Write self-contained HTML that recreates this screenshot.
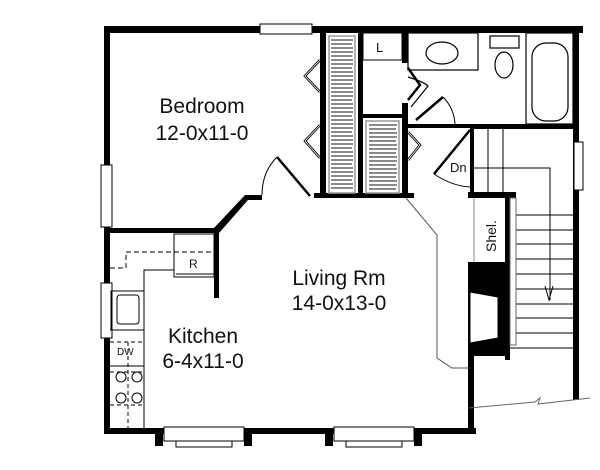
<!DOCTYPE html>
<html><head><style>body{margin:0;background:#fff}svg{display:block}text{font-family:"Liberation Sans",sans-serif;fill:#111}</style></head><body>
<svg width="600" height="470" viewBox="0 0 600 470" xmlns="http://www.w3.org/2000/svg">
<g fill="#000">
<rect x="104" y="26" width="479" height="7"/>
<rect x="104" y="26" width="6" height="408"/>
<rect x="104" y="428" width="372" height="6"/>
<rect x="468" y="262" width="6" height="172"/>
<rect x="573" y="26" width="6" height="374"/>
<rect x="104" y="228" width="114" height="5"/>
<polygon points="214,228 245,195 262,195 262,200 248,200 219,233"/>
<rect x="214" y="228" width="5" height="70"/>
<rect x="320" y="26" width="6" height="172"/>
<rect x="358" y="26" width="5" height="172"/>
<rect x="314" y="193" width="100" height="5"/>
<rect x="402" y="26" width="6" height="37"/>
<rect x="402" y="103" width="6" height="95"/>
<rect x="358" y="114" width="50" height="4"/>
<rect x="405" y="124" width="70" height="4"/>
<rect x="470" y="124" width="107" height="5"/>
<rect x="470" y="124" width="4" height="72"/>
<rect x="468" y="192" width="48" height="6"/>
<rect x="505" y="192" width="5" height="168"/>
<rect x="468" y="262" width="42" height="94"/>
</g>
<polygon points="470,292 498,297 498,338 470,343" fill="#fff" stroke="#000"/>
<g fill="#fff" stroke="#000" stroke-width="1">
<rect x="260" y="24" width="52" height="10"/>
<rect x="101" y="165" width="11" height="62"/>
<rect x="101" y="283" width="11" height="55"/>
<rect x="574" y="142" width="9" height="48"/>
<rect x="164" y="427" width="80" height="14"/><rect x="176" y="441" width="56" height="6"/>
<rect x="334" y="427" width="80" height="14"/><rect x="346" y="441" width="56" height="6"/>
</g>
<rect x="155" y="432" width="8" height="14" fill="#000"/><rect x="244" y="432" width="8" height="14" fill="#000"/>
<rect x="325" y="432" width="8" height="14" fill="#000"/><rect x="414" y="432" width="8" height="14" fill="#000"/>
<g stroke="#555" stroke-width="1.5">
<rect x="329" y="36" width="26" height="157" fill="#fff" stroke="#999"/>
<rect x="366" y="121" width="33" height="72" fill="#fff" stroke="#999"/>
</g>
<g stroke="#444" stroke-width="1.3">
<path d="M331 40h22M331 44h21M331 48h22M331 52h22M331 56h21M331 60h22M331 64h22M331 68h21M331 72h22M331 76h22M331 80h22M331 84h21M331 88h22M331 92h22M331 96h22M331 100h21M331 104h22M331 108h22M331 112h22M331 116h21M331 120h22M331 124h22M331 128h22M331 132h21M331 136h22M331 140h22M331 144h22M331 148h21M331 152h22M331 156h22M331 160h22M331 164h21M331 168h22M331 172h22M331 176h22M331 180h21M331 184h22M331 188h22"/>
<path d="M369 125h28M369 129h27M369 133h28M369 137h28M369 141h27M369 145h28M369 149h28M369 153h27M369 157h28M369 161h28M369 165h27M369 169h28M369 173h28M369 177h27M369 181h28M369 185h28M369 189h27"/>
</g>
<g fill="none" stroke="#000" stroke-width="2.5">
<path d="M320 60 L305 76 L320 92"/><path d="M320 125 L305 141 L320 158"/>
<path d="M408 68 L420 85 L408 100"/>
<path d="M408 132 L420 145 L408 160"/>
</g>
<g fill="none" stroke="#fff" stroke-width="0.8">
<path d="M320 60 L305 76 L320 92"/><path d="M320 125 L305 141 L320 158"/>
<path d="M408 132 L420 145 L408 160"/>
</g>
<g fill="none" stroke="#000">
<path d="M277 157 L310 196" stroke-width="2.5"/>
<path d="M277 157 Q262 172 262 195"/>
<path d="M408 77 Q424 82 428 86 L411 107" stroke-width="1.2"/>
<path d="M416 120 L443 97" stroke-width="2.5"/>
<path d="M443 97 Q454 108 455 124"/>
<path d="M470 130 L434 174" stroke-width="2.5"/>
<path d="M434 174 Q452 186 470 187"/>
</g>
<rect x="363" y="33" width="39" height="27" fill="none" stroke="#000"/>
<text x="376" y="52" font-size="13">L</text>
<g fill="none" stroke="#000" stroke-width="1.2">
<rect x="408" y="33" width="70" height="37"/>
<ellipse cx="442" cy="53" rx="16" ry="11"/>
<rect x="490" y="36" width="29" height="12"/>
<ellipse cx="504" cy="65" rx="9" ry="13"/>
<rect x="526" y="33" width="47" height="91"/>
<rect x="532" y="43" width="36" height="78" rx="14"/>
</g>
<g stroke="#000" stroke-width="1" fill="none">
<path d="M488 129V192M503 129V192M474 168H550V300"/>
<path d="M545 286 L549 300 L553 286"/>
<path d="M516 215H573M516 230H573M516 244H573M516 259H573M516 274H573M516 289H573M516 304H573M516 318H573M516 333H573M510 348H573"/>
<rect x="510" y="198" width="6" height="147" stroke="#666"/>
<path d="M474 198V262" stroke="#888"/>
<path d="M469 408 L535 402 L540 398 L538 404 L590 398" stroke="#666"/>
</g>
<text transform="translate(496,252) rotate(-90)" font-size="14">Shel.</text>
<text x="450" y="172" font-size="13">Dn</text>
<path d="M406 198 L437 235 V358 L452 368 H468" fill="none" stroke="#555" stroke-width="1"/>
<g fill="none" stroke="#000" stroke-width="1">
<rect x="174" y="234" width="40" height="43"/>
<path d="M176 274h38"/>
<path d="M110 268H126V252H214" stroke-dasharray="5,3"/>
<path d="M144 428V270H174" />
<rect x="111" y="291" width="33" height="39"/>
<rect x="117" y="295" width="22" height="29" rx="3"/>
<path d="M110 330H144M110 342H144M110 372H144M128 342V428M110 405H144" stroke-dasharray="4,3"/>
<path d="M110 366H144"/>
<circle cx="121" cy="377" r="5"/><circle cx="137" cy="377" r="5"/>
<circle cx="121" cy="398" r="5"/><circle cx="137" cy="398" r="5"/>
</g>
<text x="189" y="268" font-size="12">R</text>
<text x="117" y="355" font-size="10">DW</text>
<text x="202" y="113" font-size="21" text-anchor="middle">Bedroom</text>
<text x="202" y="140" font-size="21" text-anchor="middle">12-0x11-0</text>
<text x="339" y="285" font-size="21" text-anchor="middle">Living Rm</text>
<text x="339" y="310" font-size="21" text-anchor="middle">14-0x13-0</text>
<text x="203" y="343" font-size="21" text-anchor="middle">Kitchen</text>
<text x="203" y="368" font-size="21" text-anchor="middle">6-4x11-0</text>
</svg>
</body></html>
